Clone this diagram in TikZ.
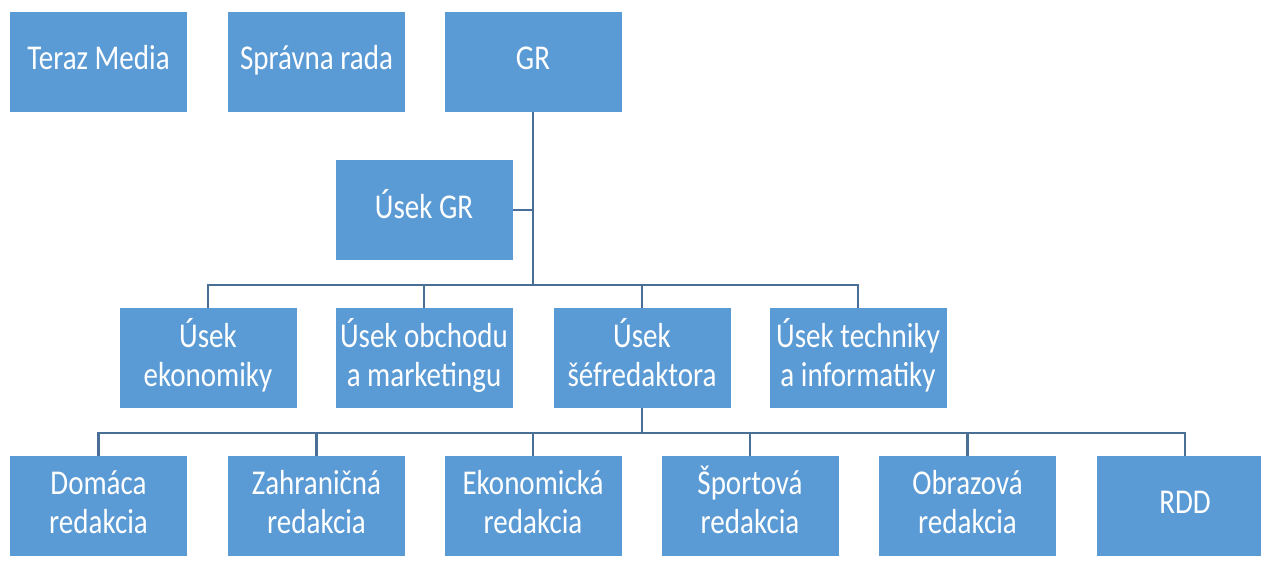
\documentclass[tikz,border=0pt]{standalone}
\usepackage{fontspec}
\setmainfont{Carlito}
\definecolor{boxblue}{HTML}{5B9BD5}
\definecolor{lineblue}{HTML}{4A6F96}
% labels are drawn a bit taller than wide, as in the chart
\newcommand{\lbl}[1]{\scalebox{1}[1.2]{\begin{tabular}{@{}c@{}}#1\end{tabular}}}
\tikzset{
  unit/.style={fill=boxblue, text=white, minimum width=177pt, minimum height=100pt,
    inner sep=0pt, align=center, font=\fontsize{29}{32.5}\selectfont},
  link/.style={draw=lineblue, line width=2.6pt}
}

\begin{document}
\begin{tikzpicture}[x=1pt, y=-1pt]
\useasboundingbox (0, 0) rectangle (1261, 565);

% top row
\node[unit] (teraz) at (98.5, 62) {\lbl{Teraz Media}};
\node[unit] (rada) at (316.5, 62) {\lbl{Správna rada}};
\node[unit] (gr) at (533, 62) {\lbl{GR}};
\node[unit] (usekgr) at (424, 210) {\lbl{Úsek GR}};

% divisions
\node[unit] (ekon) at (208, 358) {\lbl{Úsek\\ekonomiky}};
\node[unit] (obch) at (424, 358) {\lbl{Úsek obchodu\\a marketingu}};
\node[unit] (sef) at (642, 358) {\lbl{Úsek\\šéfredaktora}};
\node[unit] (tech) at (858, 358) {\lbl{Úsek techniky\\a informatiky}};

% editorial offices
\node[unit] (domaca) at (98.5, 506) {\lbl{Domáca\\redakcia}};
\node[unit] (zahr) at (316.5, 506) {\lbl{Zahraničná\\redakcia}};
\node[unit] (ekred) at (533, 506) {\lbl{Ekonomická\\redakcia}};
\node[unit] (sport) at (750, 506) {\lbl{Športová\\redakcia}};
\node[unit] (obraz) at (967.5, 506) {\lbl{Obrazová\\redakcia}};
\node[unit] (rdd) at (1185, 506) {\lbl{RDD}};

\coordinate (busA) at (533, 285);
\coordinate (busB) at (642, 433);

\draw[link] (gr.south) -- (busA);
\draw[link] (usekgr.east) -- (usekgr.east -| gr.south);
\draw[link] (busA) -| (ekon.north);
\draw[link] (busA) -| (obch.north);
\draw[link] (busA) -| (sef.north);
\draw[link] (busA) -| (tech.north);

\draw[link] (sef.south) -- (busB);
\draw[link] (busB) -| (domaca.north);
\draw[link] (busB) -| (zahr.north);
\draw[link] (busB) -| (ekred.north);
\draw[link] (busB) -| (sport.north);
\draw[link] (busB) -| (obraz.north);
\draw[link] (busB) -| (rdd.north);
\end{tikzpicture}
\end{document}
